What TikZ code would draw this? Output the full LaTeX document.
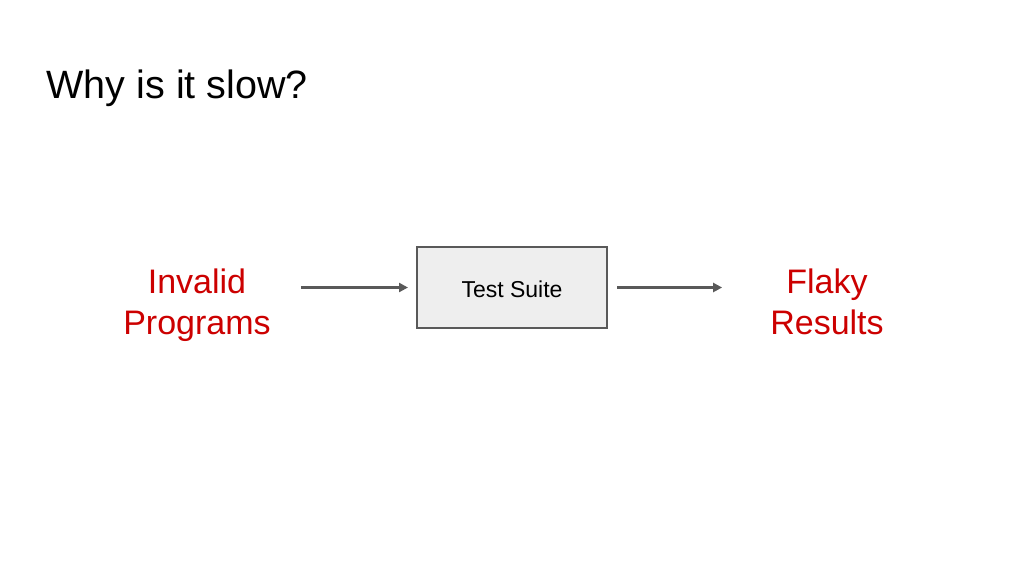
\documentclass[tikz,border=0pt]{standalone}
\usepackage{fontspec}
\setmainfont{Liberation Sans}
\usetikzlibrary{arrows.meta}
\definecolor{redtxt}{HTML}{CC0000}
\definecolor{boxfill}{HTML}{EEEEEE}
\definecolor{linegray}{HTML}{595959}
\tikzset{
  lbl/.style={inner sep=0pt, text=redtxt, align=center, font=\fontsize{34}{41}\selectfont},
  boxnode/.style={draw=linegray, line width=2pt, fill=boxfill, minimum width=190pt, minimum height=81pt, inner sep=0pt, font=\fontsize{23}{27}\selectfont},
  arr/.style={draw=linegray, line width=2.5pt, -{Triangle[length=9pt,width=9pt]}}
}
\begin{document}
\begin{tikzpicture}[x=1pt,y=-1pt]
\useasboundingbox[fill=white] (0,0) rectangle (1024,576);
\node[anchor=base west, inner sep=0pt, font=\fontsize{39.5}{46}\selectfont] (title) at (46.5,98) {Why is it slow?};
\node[lbl, anchor=base] (inv) at (197,334) {Invalid\\Programs};
\node[boxnode] (box) at (512,287.5) {};
\node[inner sep=0pt, font=\fontsize{23}{27}\selectfont] (boxtxt) at (512,289) {Test Suite};
\node[lbl, anchor=base] (flk) at (827,334) {Flaky\\Results};
\draw[arr, shorten <=30pt, shorten >=8pt] (box.west -| inv.east) -- (box.west);
\draw[arr, shorten <=9pt, shorten >=48pt] (box.east) -- (box.east -| flk.west);
\end{tikzpicture}
\end{document}
